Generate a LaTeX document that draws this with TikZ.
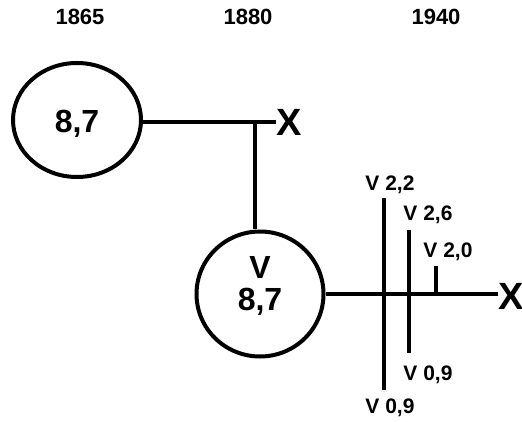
\documentclass[tikz,border=0pt]{standalone}
\usepackage{fontspec}
\setmainfont{Liberation Sans}
\usetikzlibrary{shapes.geometric}

\begin{document}
\begin{tikzpicture}[
  x=0.5pt, y=-0.5pt,
  font=\bfseries,
  year/.style={font=\fontsize{11}{13}\selectfont\bfseries},
  gen/.style={ellipse, draw, line width=2pt, align=center, inner sep=0pt,
    font=\fontsize{16}{17}\selectfont\bfseries},
  endx/.style={inner sep=0pt, font=\fontsize{19}{20}\selectfont\bfseries},
  bar/.style={line width=2pt},
  val/.style={font=\fontsize{10.5}{12}\selectfont\bfseries, inner sep=0pt},
  link/.style={line width=2pt},
]
\useasboundingbox (0,0) rectangle (522,421);
% years
\node[year] (y1865) at (80,17) {1865};
\node[year] (y1880) at (248,17) {1880};
\node[year] (y1940) at (436,17) {1940};
% generations
\node[gen, minimum width=64pt, minimum height=57pt, text height=15pt]
  (c1865) at (77,120) {8,7};
\node[gen, minimum width=63.5pt, minimum height=62.5pt, text depth=11pt]
  (c1880) at (260,294) {V\\[-1pt]8,7};
\node[endx] (x1) at (289,122) {X};
\node[endx] (x2) at (511,296) {X};
\coordinate (j) at (255,122);
% values
\coordinate (b1t) at (384,198); \coordinate (b1b) at (384,390);
\coordinate (b2t) at (409,230); \coordinate (b2b) at (409,353);
\coordinate (b3t) at (436,266); \coordinate (b3b) at (436,294);
\node[val] (v22) at (390,185) {V 2,2};
\node[val] (v09a) at (390,408) {V 0,9};
\node[val] (v26) at (428,215) {V 2,6};
\node[val] (v09b) at (428,375) {V 0,9};
\node[val] (v20) at (448,252) {V 2,0};
% lines
\draw[link] (c1865.east |- x1) -- (x1);
\draw[link] (j) -- (j |- c1880.north);
\draw[link] (c1880.east |- b3b) -- (x2.west |- b3b);
\draw[bar] (b1t) -- (b1b);
\draw[bar] (b2t) -- (b2b);
\draw[bar] (b3t) -- (b3b);
\end{tikzpicture}
\end{document}
